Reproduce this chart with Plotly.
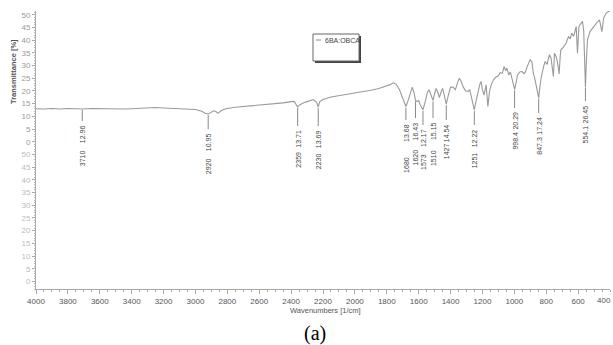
import numpy as np
import plotly.graph_objects as go

# ---------------- data ----------------
wavenumber = [4000, 3950, 3900, 3850, 3800, 3750, 3710, 3650, 3600, 3550, 3500, 3450, 3400, 3350,
              3300, 3250, 3200, 3150, 3100, 3050, 3000, 2960, 2940, 2920, 2900, 2885, 2870, 2858,
              2840, 2810, 2750, 2700, 2650, 2600, 2550, 2500, 2450, 2400, 2380, 2365, 2359, 2345,
              2320, 2290, 2260, 2240, 2230, 2220, 2200, 2150, 2100, 2050, 2000, 1950, 1900, 1850,
              1800, 1780, 1760, 1740, 1720, 1700, 1685, 1680, 1665, 1650, 1640, 1630, 1620, 1610,
              1600, 1590, 1573, 1560, 1545, 1535, 1525, 1510, 1500, 1490, 1480, 1470, 1460, 1450,
              1440, 1427, 1415, 1400, 1385, 1370, 1355, 1345, 1335, 1320, 1305, 1290, 1280, 1270,
              1260, 1251, 1240, 1228, 1215, 1208, 1200, 1190, 1177, 1166, 1155, 1145, 1130, 1115,
              1100, 1089, 1075, 1064, 1055, 1047, 1035, 1025, 1015, 998, 990, 980, 965, 953, 940,
              930, 920, 901, 890, 882, 870, 860, 847, 840, 830, 815, 807, 795, 780, 770, 762, 755,
              748, 735, 726, 719, 712, 708, 690, 675, 660, 650, 640, 628, 612, 604, 595, 573, 565,
              560, 554, 548, 541, 525, 504, 485, 466, 451, 440, 424, 410, 400]
transmittance = [13.0, 12.9, 13.1, 12.9, 13.1, 13.0, 12.9, 13.1, 13.0, 13.1, 12.9, 12.9, 13.0, 13.2,
                 13.4, 13.5, 13.3, 13.1, 13.0, 12.9, 12.7, 12.0, 11.2, 10.95, 11.6, 12.2, 11.8, 11.2,
                 12.2, 13.0, 13.6, 13.9, 14.1, 14.4, 14.6, 14.9, 15.3, 15.8, 15.9, 14.2, 13.71, 14.6,
                 15.4, 16.0, 16.6, 15.5, 13.69, 15.8, 16.6, 17.6, 18.1, 18.6, 19.1, 19.7, 20.3, 21.0,
                 21.9, 22.5, 23.2, 22.6, 20.5, 17.0, 14.2, 13.9, 16.5, 19.5, 21.5, 19.5, 16.4, 15.8,
                 16.2, 14.5, 12.6, 15.5, 19.5, 20.5, 19.0, 16.3, 19.0, 21.0, 19.5, 17.4, 19.5, 21.0,
                 18.5, 14.8, 18.0, 21.5, 21.5, 20.5, 23.5, 25.0, 24.0, 21.5, 20.0, 19.8, 20.5, 18.0,
                 14.5, 12.6, 16.0, 19.8, 23.0, 23.7, 20.5, 18.4, 22.4, 13.9, 20.0, 22.4, 24.5, 25.5,
                 26.0, 27.2, 27.0, 29.7, 28.0, 29.0, 26.3, 27.5, 25.0, 20.5, 23.0, 26.3, 27.5, 27.7,
                 26.8, 27.5, 29.5, 32.3, 31.5, 27.5, 24.4, 21.0, 17.2, 21.5, 25.8, 30.0, 31.6, 30.5,
                 34.3, 33.0, 30.0, 25.7, 34.9, 33.0, 30.0, 26.7, 34.0, 36.2, 37.5, 38.9, 41.5, 40.5,
                 42.8, 41.5, 45.4, 34.9, 45.4, 47.4, 44.0, 34.0, 21.5, 32.0, 40.2, 43.4, 45.4, 46.7,
                 48.0, 43.4, 48.7, 50.7, 51.3, 51.5]

peak_wn = [3710, 2920, 2359, 2230, 1680, 1620, 1573, 1510, 1427, 1251, 998.4, 847.3, 554.1]
peak_wn_labels = ["3710", "2920", "2359", "2230", "1680", "1620", "1573", "1510", "1427", "1251",
                  "998.4", "847.3", "554.1"]
peak_t_labels = ["12.96", "10.95", "13.71", "13.69", "13.68", "16.43", "12.17", "15.15", "14.54",
                 "12.22", "20.29", "17.24", "26.45"]

series_name = "6BA:OBCA"
x_tick_vals = list(range(4000, 399, -200))
y_tick_vals = list(range(-55, 51, 5))

# ---------------- layout geometry (pixels) ----------------
W, H = 613, 345
ML, MR, MT, MB = 36, 3, 11, 56
PW, PH = W - ML - MR, H - MT - MB
XR = [4000, 400]
YR = [-58, 51.5]


def yd(py):
    return YR[1] - (py - MT) * (YR[1] - YR[0]) / PH


def xp(px):
    return (px - ML) / PW


def yp(py):
    return (MT + PH - py) / PH


# label top positions (px) for the T value and the wavenumber parts
t_top_px = [123, 131, 128, 128, 122, 120, 127, 120, 122, 127, 110, 115, 103]
wn_top_px = [148, 156, 150, 151, 155, 147, 152, 148, 141, 150, 130, 135, 123]

line_col = "#9a9a9a"
txt_col = "#444444"
SANS = "Liberation Sans, Arial, sans-serif"
lab_font = dict(family=SANS, size=7, color=txt_col)

fig = go.Figure()
fig.add_trace(go.Scatter(x=wavenumber, y=transmittance, mode="lines",
                         line=dict(color=line_col, width=1.1), name=series_name,
                         showlegend=False, hoverinfo="skip"))

shapes = []
annotations = []
for wn, wl, tl, tt, wt in zip(peak_wn, peak_wn_labels, peak_t_labels, t_top_px, wn_top_px):
    ytop = float(np.interp(wn, wavenumber[::-1], transmittance[::-1])) - 0.4
    shapes.append(dict(type="line", xref="x", yref="y", x0=wn, x1=wn, y0=ytop, y1=yd(tt - 2),
                       line=dict(color="#888888", width=1)))
    annotations.append(dict(x=wn, y=yd(tt), xref="x", yref="y", text=tl, textangle=-90,
                            showarrow=False, xanchor="center", yanchor="top", font=lab_font))
    annotations.append(dict(x=wn, y=yd(wt), xref="x", yref="y", text=wl, textangle=-90,
                            showarrow=False, xanchor="center", yanchor="top", font=lab_font))

# legend box with shadow
shapes.append(dict(type="rect", xref="paper", yref="paper", x0=xp(315), x1=xp(361),
                   y0=yp(63), y1=yp(36), line=dict(width=0), fillcolor="#444444"))
shapes.append(dict(type="rect", xref="paper", yref="paper", x0=xp(313), x1=xp(359),
                   y0=yp(61), y1=yp(34), line=dict(color="#666666", width=1), fillcolor="white"))
shapes.append(dict(type="line", xref="paper", yref="paper", x0=xp(316), x1=xp(321),
                   y0=yp(40), y1=yp(40), line=dict(color="#888888", width=1)))
annotations.append(dict(x=xp(323), y=yp(40), xref="paper", yref="paper", text=series_name,
                        showarrow=False, xanchor="left", yanchor="middle",
                        font=dict(family=SANS, size=7, color=txt_col)))

# edge tick label, kept inside the page
annotations.append(dict(x=xp(613), y=yp(300), xref="paper", yref="paper", text="400",
                        showarrow=False, xanchor="right", yanchor="middle",
                        font=dict(family=SANS, size=8, color="#555555")))

# axis titles and caption
annotations.append(dict(x=xp(13), y=yd(72), xref="paper", yref="y", text="<b>Transmittance [%]</b>",
                        textangle=-90, showarrow=False, xanchor="center", yanchor="middle",
                        font=dict(family=SANS, size=7.5, color="#555555")))
annotations.append(dict(x=xp(325), y=yp(310), xref="paper", yref="paper", text="Wavenumbers [1/cm]",
                        showarrow=False, xanchor="center", yanchor="middle",
                        font=dict(family=SANS, size=7.5, color="#555555")))
annotations.append(dict(x=xp(315), y=yp(333), xref="paper", yref="paper", text="(a)",
                        showarrow=False, xanchor="center", yanchor="middle",
                        font=dict(family="Liberation Serif, Times New Roman, serif", size=20, color="black")))

y_tick_text = [str(v) if v >= 0 else '<span style="color:#bbbbbb">%d</span>' % (v + 55)
               for v in y_tick_vals]

fig.update_layout(
    width=W, height=H, margin=dict(l=ML, r=MR, t=MT, b=MB),
    paper_bgcolor="white", plot_bgcolor="white",
    shapes=shapes, annotations=annotations, showlegend=False,
    xaxis=dict(range=XR, tickvals=x_tick_vals[:-1], ticktext=[str(v) for v in x_tick_vals[:-1]],
               showgrid=False, zeroline=False, showline=True, linecolor="#aaaaaa", linewidth=1,
               ticks="outside", ticklen=4, tickcolor="#aaaaaa",
               minor=dict(dtick=50, ticks="outside", ticklen=2, tickcolor="#aaaaaa", showgrid=False),
               tickfont=dict(family=SANS, size=8, color="#555555")),
    yaxis=dict(range=YR, tickvals=y_tick_vals, ticktext=y_tick_text,
               showgrid=False, zeroline=False, showline=True, linecolor="#aaaaaa", linewidth=1,
               ticks="outside", ticklen=3, tickcolor="#aaaaaa",
               minor=dict(dtick=1, ticks="outside", ticklen=1.5, tickcolor="#bbbbbb", showgrid=False),
               tickfont=dict(family=SANS, size=8, color="#999999")),
)

fig.write_html("out.html")
